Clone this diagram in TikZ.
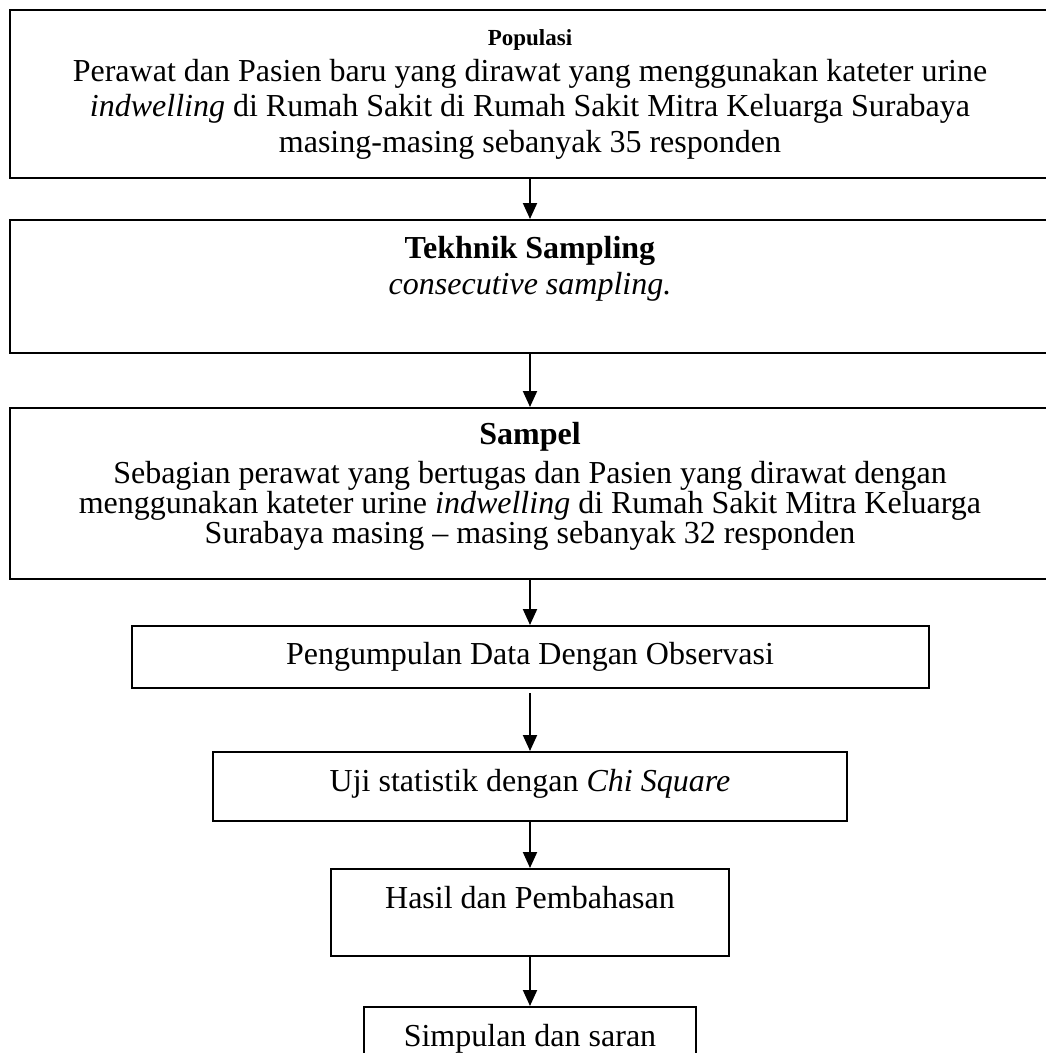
\documentclass[tikz,border=0pt]{standalone}
\usepackage{fontspec}
\setmainfont{Liberation Serif}
\usetikzlibrary{positioning,arrows.meta}

\begin{document}
\begin{tikzpicture}[>={Triangle[width=14pt,length=16pt]}, line width=2pt,
  box/.style={draw, rectangle, align=center, inner sep=0pt, font=\fontsize{32}{35.5}\selectfont}]
  \useasboundingbox (0,0) rectangle (1045pt,-1053pt);
  \node[box, minimum width=1040pt, minimum height=168pt, text depth=6pt] (pop) at (530pt,-94pt)
    {{\fontsize{23}{35.5}\selectfont\bfseries Populasi}\\
     Perawat dan Pasien baru yang dirawat yang menggunakan kateter urine\\
     \textit{indwelling} di Rumah Sakit di Rumah Sakit Mitra Keluarga Surabaya\\
     masing-masing sebanyak 35 responden};
  \node[box, minimum width=1040pt, minimum height=133pt, text depth=42pt] (teknik) [below=40pt of pop]
    {\textbf{Tekhnik Sampling}\\ \textit{consecutive sampling.}};
  \node[box, minimum width=1040pt, minimum height=171pt, text depth=21pt,
        font=\fontsize{32}{28.5}\selectfont] (sampel) [below=53pt of teknik]
    {\textbf{Sampel}\\[8.5pt]
     Sebagian perawat yang bertugas dan Pasien yang dirawat dengan\\
     menggunakan kateter urine \textit{indwelling} di Rumah Sakit Mitra Keluarga\\
     Surabaya masing -- masing sebanyak 32 responden};
  \node[box, minimum width=797pt, minimum height=62pt] (data) [below=45pt of sampel]
    {Pengumpulan Data Dengan Observasi};
  \node[box, minimum width=634pt, minimum height=69pt, text depth=12pt] (uji) [below=62pt of data]
    {Uji statistik dengan \textit{Chi Square}};
  \node[box, minimum width=398pt, minimum height=87pt, text depth=30pt] (hasil) [below=46pt of uji]
    {Hasil dan Pembahasan};
  \node[box, minimum width=332pt, minimum height=87pt, text depth=30pt] (simpulan) [below=49pt of hasil]
    {Simpulan dan saran};
  \path[->]
    (pop) edge (teknik)
    (teknik) edge (sampel)
    (sampel) edge (data)
    (data) edge[shorten <=4pt] (uji)
    (uji) edge (hasil)
    (hasil) edge (simpulan);
\end{tikzpicture}
\end{document}
